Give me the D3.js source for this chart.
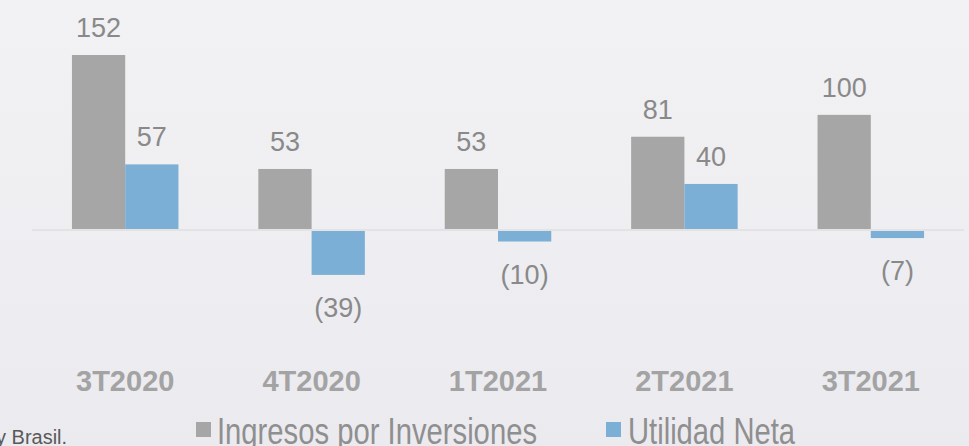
<!DOCTYPE html>
<html>
<head>
<meta charset="utf-8">
<script src="https://cdn.jsdelivr.net/npm/d3@7"></script>
<style>
  html, body { margin: 0; padding: 0; overflow: hidden; }
  svg { display: block; }
</style>
</head>
<body>
<svg id="chart" width="969" height="446"></svg>
<script>
const categories = ["3T2020", "4T2020", "1T2021", "2T2021", "3T2021"];
const seriesNames = ["Ingresos por Inversiones", "Utilidad Neta"];
const ingresos = [152, 53, 53, 81, 100];
const utilidad = [57, -39, -10, 40, -7];
const seriesColors = ["#a6a6a6", "#7bafd5"];

const W = 969, H = 446;
const svg = d3.select("#chart");

// background gradient
const defs = svg.append("defs");
const grad = defs.append("linearGradient").attr("id", "bg").attr("x1", 0).attr("y1", 0).attr("x2", 0).attr("y2", 1);
grad.append("stop").attr("offset", "0%").attr("stop-color", "#f2f2f4");
grad.append("stop").attr("offset", "100%").attr("stop-color", "#ebeaef");
svg.append("rect").attr("width", W).attr("height", H).attr("fill", "url(#bg)");

const x0 = d3.scaleBand().domain(categories).range([32, 964]).paddingInner(0.4286).paddingOuter(0.2143);
const x1 = d3.scaleBand().domain(seriesNames).range([0, x0.bandwidth()]);
const y = d3.scaleLinear().domain([0, 152]).range([230, 55]);

const data = categories.map((c, i) => ({ cat: c, vals: [ingresos[i], utilidad[i]] }));

const groups = svg.append("g").selectAll("g").data(data).join("g")
  .attr("transform", d => `translate(${x0(d.cat)},0)`);

groups.selectAll("rect").data(d => d.vals.map((v, j) => ({ v, s: seriesNames[j], j })))
  .join("rect")
  .attr("x", d => x1(d.s))
  .attr("width", x1.bandwidth())
  .attr("y", d => d.v >= 0 ? y(d.v) : y(0))
  .attr("height", d => Math.abs(y(d.v) - y(0)))
  .attr("fill", d => seriesColors[d.j]);

// zero line
svg.append("line")
  .attr("x1", 32).attr("x2", 964)
  .attr("y1", y(0)).attr("y2", y(0))
  .attr("stroke", "#e3e3e5").attr("stroke-width", 2);

// value labels
const fmt = v => v < 0 ? `(${Math.abs(v)})` : `${v}`;
groups.selectAll("text.val").data(d => d.vals.map((v, j) => ({ v, s: seriesNames[j], j })))
  .join("text")
  .attr("class", "val")
  .attr("x", d => x1(d.s) + x1.bandwidth() / 2)
  .attr("y", d => d.v >= 0 ? y(d.v) - 18 : y(d.v) + 42)
  .attr("text-anchor", "middle")
  .attr("font-family", "Liberation Sans, Arial, sans-serif")
  .attr("font-size", 27)
  .attr("fill", "#898989")
  .text(d => fmt(d.v));

// category axis
const xAxis = d3.axisBottom(x0).tickSize(0).tickPadding(0);
const ax = svg.append("g").attr("transform", "translate(0,370)").call(xAxis);
ax.select(".domain").remove();
ax.selectAll("text")
  .attr("dy", 0).attr("y", 21)
  .attr("font-family", "Liberation Sans, Arial, sans-serif")
  .attr("font-size", 29).attr("font-weight", "bold")
  .attr("fill", "#a3a3a3");

// legend
const legendPos = [{ sx: 196, tx: 217, len: 320 }, { sx: 606, tx: 628, len: 167 }];
const lg = svg.append("g").selectAll("g").data(seriesNames).join("g");
lg.append("rect")
  .attr("x", (d, i) => legendPos[i].sx).attr("y", 422)
  .attr("width", 15).attr("height", 15)
  .attr("fill", (d, i) => seriesColors[i]);
lg.append("text")
  .attr("x", (d, i) => legendPos[i].tx).attr("y", 444)
  .attr("font-family", "Liberation Sans, Arial, sans-serif")
  .attr("font-size", 36)
  .attr("textLength", (d, i) => legendPos[i].len)
  .attr("lengthAdjust", "spacingAndGlyphs")
  .attr("fill", "#8f8f8f")
  .text(d => d);

// footnote fragment
svg.append("text")
  .attr("x", -4).attr("y", 444)
  .attr("font-family", "Liberation Sans, Arial, sans-serif")
  .attr("font-size", 20)
  .attr("fill", "#595959")
  .text("y Brasil.");
</script>
</body>
</html>
